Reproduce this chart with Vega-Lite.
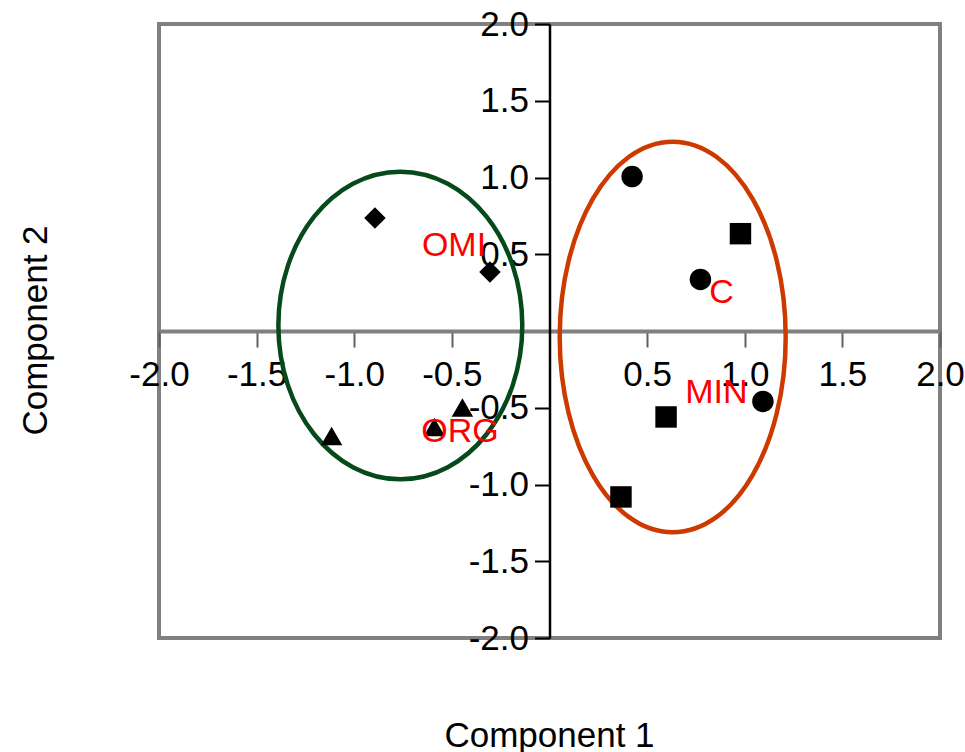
{
  "$schema": "https://vega.github.io/schema/vega-lite/v6.json",
  "width": 781,
  "height": 614,
  "autosize": "none",
  "padding": {"left": 159, "top": 24, "right": 25, "bottom": 114},
  "background": "white",
  "config": {
    "view": {"stroke": "#808080", "strokeWidth": 4},
    "font": "Liberation Sans"
  },
  "datasets": {
    "points": [
      {"treatment": "OMI", "c1": -0.894, "c2": 0.736},
      {"treatment": "OMI", "c1": -0.305, "c2": 0.384},
      {"treatment": "ORG", "c1": -1.116, "c2": -0.684},
      {"treatment": "ORG", "c1": -0.446, "c2": -0.498},
      {"treatment": "ORG", "c1": -0.59, "c2": -0.625},
      {"treatment": "C", "c1": 0.423, "c2": 1.006},
      {"treatment": "C", "c1": 0.773, "c2": 0.336},
      {"treatment": "C", "c1": 1.093, "c2": -0.459},
      {"treatment": "MIN", "c1": 0.978, "c2": 0.634},
      {"treatment": "MIN", "c1": 0.597, "c2": -0.56},
      {"treatment": "MIN", "c1": 0.366, "c2": -1.081}
    ],
    "labels": [
      {"label": "OMI", "c1": -0.489, "c2": 0.554},
      {"label": "C", "c1": 0.881, "c2": 0.248},
      {"label": "MIN", "c1": 0.855, "c2": -0.401},
      {"label": "ORG", "c1": -0.458, "c2": -0.658}
    ],
    "ellipseGreen": [{"group": "organic", "c1": -0.764, "c2": 0.036}],
    "ellipseOrange": [{"group": "mineral", "c1": 0.631, "c2": -0.039}]
  },
  "encoding": {
    "x": {
      "field": "c1", "type": "quantitative",
      "scale": {"domain": [-2, 2], "nice": false, "zero": false},
      "axis": {
        "values": [-2, -1.5, -1, -0.5, 0.5, 1, 1.5, 2],
        "offset": -307,
        "grid": false,
        "domainColor": "#808080", "domainWidth": 4,
        "tickColor": "#606060", "tickWidth": 2, "tickSize": 16,
        "labelPadding": 10, "labelFontSize": 35, "labelFont": "Liberation Sans", "labelColor": "#000000",
        "labelFlush": false, "labelOverlap": false, "labelBound": false,
        "labelExpr": "(datum.value < 0 ? '-' : '') + format(abs(datum.value), '.1f')",
        "title": "Component 1",
        "titleFont": "Liberation Sans", "titleFontSize": 35, "titleFontWeight": "normal", "titleColor": "#000000",
        "titleX": 390, "titleY": 415, "titleBaseline": "alphabetic", "titleAlign": "center"
      }
    },
    "y": {
      "field": "c2", "type": "quantitative",
      "scale": {"domain": [-2, 2], "nice": false, "zero": false},
      "axis": {
        "values": [-2, -1.5, -1, -0.5, 0.5, 1, 1.5, 2],
        "offset": -390.5,
        "grid": false,
        "domainColor": "#000000", "domainWidth": 2.5,
        "tickColor": "#000000", "tickWidth": 2, "tickSize": 15,
        "labelPadding": 6, "labelFontSize": 35, "labelFont": "Liberation Sans", "labelColor": "#000000",
        "labelFlush": false, "labelOverlap": false, "labelBound": false,
        "labelExpr": "(datum.value < 0 ? '-' : '') + format(abs(datum.value), '.1f')",
        "title": "Component 2",
        "titleFont": "Liberation Sans", "titleFontSize": 35, "titleFontWeight": "normal", "titleColor": "#000000",
        "titleX": -503.5, "titleY": 306, "titleAngle": 270, "titleBaseline": "alphabetic", "titleAlign": "center"
      }
    }
  },
  "layer": [
    {
      "data": {"name": "ellipseGreen"},
      "mark": {
        "type": "point", "filled": false, "opacity": 1,
        "shape": "M0.793,0C0.793,0.5523,0.438,1,0,1C-0.438,1,-0.793,0.5523,-0.793,0C-0.793,-0.5523,-0.438,-1,0,-1C0.438,-1,0.793,-0.5523,0.793,0Z",
        "size": 94618, "stroke": "#064a1c", "strokeWidth": 4.5
      }
    },
    {
      "data": {"name": "ellipseOrange"},
      "mark": {
        "type": "point", "filled": false, "opacity": 1,
        "shape": "M0.5786,0C0.5786,0.5523,0.3196,1,0,1C-0.3196,1,-0.5786,0.5523,-0.5786,0C-0.5786,-0.5523,-0.3196,-1,0,-1C0.3196,-1,0.5786,-0.5523,0.5786,0Z",
        "size": 152568, "stroke": "#cc3a00", "strokeWidth": 4.5
      }
    },
    {
      "data": {"name": "points"},
      "mark": {"type": "point", "filled": true, "opacity": 1, "color": "#000000", "size": 460},
      "encoding": {
        "shape": {
          "field": "treatment", "type": "nominal",
          "scale": {"domain": ["OMI", "ORG", "C", "MIN"], "range": ["diamond", "triangle-up", "circle", "square"]},
          "legend": null
        }
      }
    },
    {
      "data": {"name": "labels"},
      "mark": {"type": "text", "color": "#ff0000", "font": "Liberation Sans", "fontSize": 34, "align": "center", "baseline": "middle"},
      "encoding": {"text": {"field": "label", "type": "nominal"}}
    }
  ]
}
